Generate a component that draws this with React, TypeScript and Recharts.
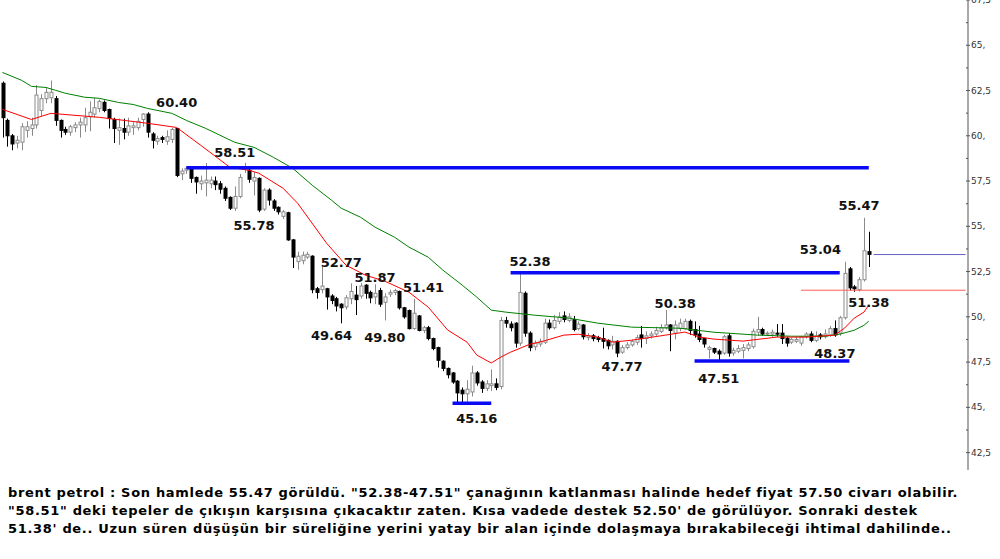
import { ComposedChart, Bar, Line, XAxis, YAxis, ReferenceLine, ReferenceDot } from 'recharts';

// Brent daily candles with two moving averages, support/resistance lines and
// the analyst's price notes.

// [open, high, low, close]
const candles: number[][] = [
  [62.9, 63.0, 59.9, 61.0], [60.85, 60.95, 59.4, 60.0], [60.0, 60.1, 59.2, 59.55], [59.6, 60.0, 59.3, 59.75],
  [59.65, 60.7, 59.2, 60.5], [60.3, 60.8, 59.9, 60.5], [60.4, 61.0, 60.0, 60.6], [60.6, 62.8, 60.4, 62.25],
  [61.4, 62.3, 61.1, 62.05], [62.05, 62.65, 61.8, 62.4], [62.1, 63.05, 61.8, 62.4], [62.05, 62.2, 60.55, 60.85],
  [60.85, 60.9, 59.9, 60.3], [60.35, 60.5, 60.05, 60.2], [60.2, 60.6, 60.0, 60.5], [60.45, 60.75, 60.2, 60.6],
  [60.6, 61.0, 59.9, 60.75], [60.6, 61.55, 60.2, 61.0], [61.05, 61.9, 60.25, 61.3], [61.2, 62.1, 61.0, 61.55],
  [61.5, 62.0, 61.3, 61.9], [61.85, 61.95, 61.3, 61.4], [61.45, 61.5, 60.4, 60.95], [60.9, 61.0, 59.6, 60.4],
  [60.3, 60.95, 59.5, 60.45], [60.4, 60.95, 59.8, 60.2], [60.2, 61.0, 60.0, 60.55], [60.45, 60.75, 60.05, 60.55],
  [60.45, 61.0, 60.3, 60.8], [60.9, 61.25, 60.5, 61.2], [61.2, 61.3, 59.9, 60.2], [60.1, 60.2, 59.3, 59.75],
  [59.7, 60.0, 59.5, 59.85], [59.9, 60.0, 59.6, 59.8], [59.7, 60.3, 59.5, 59.95], [59.8, 60.45, 59.6, 60.35],
  [60.4, 60.4, 57.72, 57.81], [57.9, 58.2, 57.55, 58.05], [58.1, 58.3, 57.9, 58.2], [58.2, 58.3, 57.4, 57.65],
  [57.7, 57.75, 56.8, 57.45], [57.35, 57.8, 57.0, 57.5], [57.4, 58.5, 56.65, 57.55], [57.35, 57.75, 57.1, 57.55],
  [57.5, 57.75, 57.0, 57.3], [57.35, 57.5, 56.8, 57.05], [57.1, 57.2, 56.4, 56.55], [56.6, 56.65, 55.9, 56.0],
  [56.0, 57.2, 55.85, 56.65], [56.65, 57.9, 56.55, 57.7], [58.15, 58.51, 57.95, 58.25], [58.1, 58.2, 57.4, 57.6],
  [57.5, 58.0, 56.7, 57.7], [57.65, 57.7, 55.78, 55.9], [55.95, 57.1, 55.85, 57.0], [57.0, 57.1, 56.15, 56.45],
  [56.4, 56.5, 55.85, 56.0], [56.05, 56.1, 55.65, 55.8], [55.55, 55.9, 55.4, 55.8], [55.75, 55.8, 54.2, 54.25],
  [54.25, 54.3, 52.7, 53.3], [53.05, 53.6, 52.6, 53.35], [53.1, 53.6, 52.9, 53.4], [53.3, 53.6, 53.2, 53.45],
  [53.35, 53.4, 51.3, 51.5], [51.55, 51.65, 51.0, 51.35], [51.5, 52.77, 51.3, 51.7], [51.55, 51.6, 50.4, 51.1],
  [51.15, 51.25, 50.7, 50.9], [51.0, 51.1, 50.3, 50.6], [50.7, 50.75, 49.64, 50.5], [50.55, 51.2, 50.4, 51.05],
  [51.0, 51.85, 50.7, 51.4], [51.2, 51.7, 50.1, 50.95], [51.15, 51.87, 51.0, 51.7], [51.75, 51.8, 51.0, 51.3],
  [51.35, 51.45, 50.75, 51.05], [51.1, 51.8, 50.7, 51.3], [51.45, 51.6, 50.55, 50.7], [50.8, 51.3, 49.8, 51.1],
  [51.25, 51.5, 51.1, 51.35], [51.35, 51.55, 51.2, 51.45], [51.4, 51.45, 50.4, 50.5], [50.5, 50.55, 49.9, 50.0],
  [50.35, 50.4, 49.3, 49.35], [49.35, 51.0, 49.3, 50.2], [50.05, 50.1, 49.2, 49.25], [49.25, 49.5, 49.1, 49.4],
  [49.4, 49.5, 48.7, 48.8], [48.8, 48.85, 48.15, 48.25], [48.3, 48.35, 47.2, 47.6], [47.55, 47.6, 47.0, 47.15],
  [47.15, 47.2, 46.6, 46.8], [46.9, 46.95, 46.3, 46.4], [46.45, 46.5, 45.16, 45.8], [45.95, 46.1, 45.2, 45.75],
  [45.75, 46.5, 45.3, 46.0], [45.85, 47.3, 45.6, 46.9], [46.9, 47.0, 46.2, 46.35], [46.4, 46.5, 45.8, 46.05],
  [46.05, 46.5, 45.9, 46.3], [46.2, 47.1, 45.9, 46.3], [46.3, 46.6, 45.95, 46.1], [46.15, 50.0, 46.0, 49.8],
  [49.8, 50.0, 49.4, 49.65], [49.6, 49.75, 49.2, 49.4], [49.65, 49.7, 48.3, 48.55], [48.55, 52.38, 48.4, 51.35],
  [51.3, 51.4, 48.9, 49.1], [49.1, 49.2, 48.1, 48.3], [48.35, 48.7, 48.15, 48.55], [48.5, 48.8, 48.35, 48.65],
  [48.6, 49.9, 48.5, 49.65], [49.65, 49.85, 49.3, 49.4], [49.4, 50.1, 49.3, 49.8], [49.75, 50.25, 49.6, 50.0],
  [50.05, 50.3, 49.7, 49.85], [49.8, 50.2, 49.7, 50.0], [49.85, 50.05, 49.2, 49.3], [49.35, 49.75, 49.25, 49.6],
  [49.55, 49.6, 48.75, 48.9], [48.85, 49.1, 48.7, 48.95], [48.95, 49.05, 48.65, 48.8], [48.85, 48.95, 48.6, 48.75],
  [48.8, 49.4, 48.25, 48.65], [48.7, 48.75, 48.2, 48.4], [48.45, 48.95, 48.2, 48.65], [48.65, 48.7, 47.77, 48.0],
  [48.05, 48.45, 47.95, 48.3], [48.3, 48.6, 48.2, 48.45], [48.45, 48.75, 48.35, 48.65], [48.6, 49.0, 48.45, 48.85],
  [49.0, 49.5, 48.3, 48.8], [48.8, 49.2, 48.5, 48.95], [48.95, 49.2, 48.8, 49.05], [49.05, 49.45, 48.95, 49.25],
  [49.2, 49.6, 49.1, 49.4], [49.4, 50.38, 49.3, 49.55], [49.55, 49.6, 48.1, 49.25], [49.1, 49.8, 48.75, 49.55],
  [49.35, 49.9, 49.2, 49.65], [49.35, 49.9, 49.3, 49.75], [49.75, 49.85, 49.0, 49.25], [49.3, 49.75, 48.85, 49.0],
  [49.05, 49.5, 48.6, 48.75], [48.8, 48.85, 48.3, 48.5], [48.2, 48.4, 47.7, 48.3], [48.25, 48.3, 47.95, 48.05],
  [48.1, 48.2, 47.51, 47.95], [48.0, 49.0, 47.9, 48.9], [48.95, 49.1, 47.8, 48.0], [48.0, 48.3, 47.85, 48.15],
  [48.1, 48.45, 48.0, 48.25], [48.15, 48.5, 47.7, 48.3], [48.25, 48.6, 48.1, 48.45], [48.35, 49.35, 48.25, 49.2],
  [49.15, 50.0, 48.95, 49.3], [49.3, 49.4, 48.95, 49.05], [49.05, 49.2, 48.95, 49.1], [49.05, 49.3, 48.9, 49.15],
  [49.1, 49.6, 48.9, 49.05], [49.1, 49.6, 48.5, 48.8], [48.8, 48.9, 48.35, 48.55], [48.6, 48.85, 48.5, 48.75],
  [48.65, 48.9, 48.55, 48.75], [48.55, 48.95, 48.4, 48.9], [48.9, 49.15, 48.8, 49.05], [49.05, 49.2, 48.6, 48.7],
  [48.7, 49.2, 48.6, 48.95], [49.0, 49.1, 48.75, 48.9], [48.9, 49.3, 48.8, 49.05], [49.0, 49.5, 48.9, 49.35],
  [49.35, 49.8, 48.9, 49.0], [49.1, 50.05, 48.95, 49.95], [49.95, 53.04, 49.85, 52.4], [52.65, 52.75, 51.45, 51.6],
  [51.65, 51.75, 51.38, 51.55], [51.5, 52.2, 51.4, 52.05], [52.05, 55.47, 51.95, 53.65], [53.6, 54.7, 52.75, 53.45],
];

// moving averages as [candle index, value]
const redMa: number[][] = [
  [0, 61.46], [6, 60.9], [10, 61.24], [20, 61.02], [30, 60.69], [36, 60.46], [41, 59.47], [47, 58.26],
  [51, 58.09], [53, 57.93], [58, 57.1], [61, 56.27], [67, 54.06], [71, 52.85], [75, 52.3], [79, 51.97],
  [84, 51.36], [88, 50.53], [92, 49.27], [96, 48.6], [98, 47.89], [101, 47.45], [103, 47.78], [105, 48.05],
  [109, 48.49], [111, 48.6], [116, 48.99], [119, 49.04], [123, 48.88], [126, 48.6], [130, 48.71], [137, 48.99],
  [141, 49.16], [144, 48.88], [147, 48.77], [153, 48.66], [160, 48.88], [166, 48.88], [172, 48.99], [174, 49.38],
  [176, 49.93], [178, 50.26], [179, 50.65],
];
const greenMa: number[][] = [
  [0, 63.5], [4, 63.06], [6, 62.73], [9, 62.67], [11, 62.51], [13, 62.35], [17, 62.13], [20, 62.07],
  [24, 61.84], [27, 61.73], [30, 61.51], [35, 61.24], [38, 60.85], [42, 60.41], [48, 59.64], [52, 59.36],
  [56, 58.81], [60, 58.2], [64, 57.27], [68, 56.44], [70, 56.0], [74, 55.5], [77, 54.95], [81, 54.4],
  [84, 53.85], [88, 53.29], [91, 52.58], [95, 51.75], [98, 51.09], [101, 50.37], [104, 50.26], [110, 50.09],
  [117, 49.93], [123, 49.65], [130, 49.43], [140, 49.37], [147, 49.15], [156, 48.99], [163, 48.93], [170, 48.93],
  [173, 49.04], [176, 49.26], [178, 49.53], [179, 49.76],
];

// drawn levels: [from index, to index, price]
const thickLevels: number[][] = [[38, 179, 58.24], [105, 173, 52.44], [93, 101, 45.22], [143, 175, 47.56]];
const lastPrice = [180, 199, 53.44];
const supportLevel = [165, 199, 51.47];

// price notes: text, candle index, price where the note is centred
const notes: [string, number, number][] = [
  ['60.40', 36, 61.84], ['58.51', 48, 59.08], ['55.78', 52, 55.06], ['52.77', 70, 53.02],
  ['51.87', 77, 52.19], ['51.41', 87, 51.64], ['49.64', 68, 48.99], ['49.80', 79, 48.87],
  ['52.38', 109, 53.07], ['45.16', 98, 44.41], ['47.77', 128, 47.23], ['50.38', 139, 50.76],
  ['47.51', 148, 46.62], ['48.37', 172, 48.0], ['53.04', 169, 53.73], ['51.38', 179, 50.81],
  ['55.47', 177, 56.16],
];

const axisTicks = [42.5, 43.75, 45, 46.25, 47.5, 48.75, 50, 51.25, 52.5, 53.75, 55, 56.25, 57.5, 58.75, 60, 61.25, 62.5, 63.75, 65, 66.25, 67.5];

const commentLines = [
  'brent petrol : Son hamlede 55.47 görüldü. "52.38-47.51" çanağının katlanması halinde hedef fiyat 57.50 civarı olabilir.',
  '"58.51" deki tepeler de çıkışın karşısına çıkacaktır zaten. Kısa vadede destek 52.50\' de görülüyor. Sonraki destek',
  '51.38\' de.. Uzun süren düşüşün bir süreliğine yerini yatay bir alan içinde dolaşmaya bırakabileceği ihtimal dahilinde..',
];

const SLOTS = 200;

const data = Array.from({ length: SLOTS }, (_, i) => {
  const k = candles[i];
  return {
    i,
    o: k ? k[0] : null, h: k ? k[1] : null, l: k ? k[2] : null, c: k ? k[3] : null,
    range: k ? [k[2], k[1]] : null,
  };
});
const redData = redMa.map(([i, v]) => ({ i, red: v }));
const greenData = greenMa.map(([i, v]) => ({ i, green: v }));

function Candle(props: any) {
  const { x, y, width, height, payload } = props;
  if (!payload || payload.o == null) return null;
  const { o, h, l, c } = payload;
  const top = Math.min(y, y + height);
  const bot = Math.max(y, y + height);
  const k = (bot - top) / (h - l || 1);
  const py = (v: number) => top + (h - v) * k;
  const cx = Math.round(x + width / 2) + 0.5;
  const up = c >= o;
  const bTop = py(Math.max(o, c));
  const bBot = py(Math.min(o, c));
  const col = up ? '#8a8a8a' : '#000';
  return (
    <g>
      <line x1={cx} x2={cx} y1={top} y2={bot} stroke={col} strokeWidth={1} />
      <rect x={cx - 1.5} y={bTop} width={3} height={Math.max(1, bBot - bTop)}
        fill={up ? '#fff' : '#000'} stroke={col} strokeWidth={1} />
    </g>
  );
}

function PriceTick(props: any) {
  const { x, y, payload } = props;
  const v = payload.value as number;
  const major = Math.abs(v / 2.5 - Math.round(v / 2.5)) < 1e-6;
  const label = Number.isInteger(v) ? `${v},` : String(v).replace('.', ',');
  return (
    <g>
      <line x1={x - 2} x2={major ? x + 2 : x} y1={y} y2={y} stroke="#555" />
      {major && (
        <text x={x + 3} y={y} dominantBaseline="central" fontSize={9} fill="#333"
          fontFamily="DejaVu Sans, sans-serif">{label}</text>
      )}
    </g>
  );
}

function Note(props: any) {
  const { cx, cy, text } = props;
  return (
    <text x={cx} y={cy} textAnchor="middle" dominantBaseline="central" fontSize={13}
      fontWeight={700} fill="#111" fontFamily="DejaVu Sans, sans-serif">{text}</text>
  );
}

export default function App() {
  return (
    <div style={{ position: 'absolute', left: 0, top: 0, width: 1000, height: 559, background: '#fff', overflow: 'hidden' }}>
      <ComposedChart width={1000} height={470} data={data} margin={{ top: 0, right: 0, bottom: 0, left: 0 }}>
        <XAxis dataKey="i" type="category" allowDuplicatedCategory={false} hide />
        <YAxis orientation="right" width={32} domain={[41.54, 67.5]} allowDataOverflow ticks={axisTicks}
          interval={0} tickSize={0} tickMargin={0} tickLine={false} stroke="#555" tick={<PriceTick />} />
        <Line data={greenData} dataKey="green" stroke="#008000" strokeWidth={1} dot={false} activeDot={false} isAnimationActive={false} />
        <Line data={redData} dataKey="red" stroke="#ff0000" strokeWidth={1} dot={false} activeDot={false} isAnimationActive={false} />
        <Bar dataKey="range" barSize={3} shape={<Candle />} activeBar={false} isAnimationActive={false} />
        {thickLevels.map(([a, b, p], n) => (
          <ReferenceLine key={n} segment={[{ x: a, y: p }, { x: b, y: p }]} stroke="#0a0af5" strokeWidth={3.5} />
        ))}
        <ReferenceLine segment={[{ x: lastPrice[0], y: lastPrice[2] }, { x: lastPrice[1], y: lastPrice[2] }]} stroke="#6060c0" strokeWidth={1} />
        <ReferenceLine segment={[{ x: supportLevel[0], y: supportLevel[2] }, { x: supportLevel[1], y: supportLevel[2] }]} stroke="#ff5a5a" strokeWidth={1} />
        {notes.map(([t, i, p]) => (
          <ReferenceDot key={t} x={i} y={p} r={0} shape={(s: any) => <Note {...s} text={t} />} />
        ))}
      </ComposedChart>
      <div style={{ position: 'absolute', left: 8, top: 484, fontFamily: '"DejaVu Sans", sans-serif',
        fontWeight: 700, fontSize: 13, letterSpacing: 0.68, lineHeight: '18px', color: '#000', whiteSpace: 'nowrap' }}>
        {commentLines.map((l, n) => <div key={n}>{l}</div>)}
      </div>
    </div>
  );
}
